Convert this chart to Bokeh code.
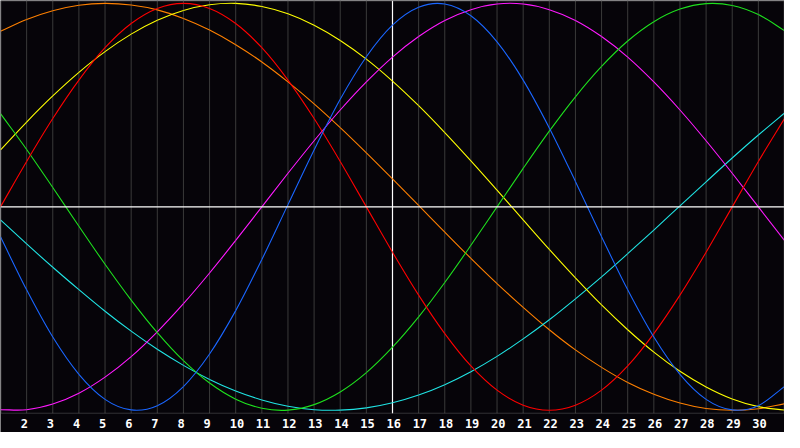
from bokeh.plotting import figure
from bokeh.models import Range1d, Span, BoxAnnotation, ColumnDataSource
from bokeh.core.properties import value
from bokeh.embed import file_html
from bokeh.resources import INLINE

# ---- data (percent values per day) ----
days = list(range(1, 32))

physical = [-14.7, -40.8, -64.0, -82.3, -94.6, -99.8, -97.7, -88.3, -72.3, -51.0, -25.9, 1.1,
            28.0, 52.9, 73.8, 89.3, 98.1, 99.7, 93.9, 81.1, 62.3, 38.8, 12.5, -14.7,
            -40.8, -64.0, -82.3, -94.6, -99.8, -97.7, -88.3]
emotional = [0.0, 22.3, 43.4, 62.3, 78.2, 90.1, 97.5, 100.0, 97.5, 90.1, 78.2, 62.3,
             43.4, 22.3, 0.0, -22.3, -43.4, -62.3, -78.2, -90.1, -97.5, -100.0, -97.5, -90.1,
             -78.2, -62.3, -43.4, -22.3, 0.0, 22.3, 43.4]
intellectual = [45.8, 28.2, 9.5, -9.5, -28.2, -45.8, -61.8, -75.6, -86.6, -94.5, -99.0, -99.9,
                -97.2, -91.0, -81.5, -69.0, -54.1, -37.2, -18.9, 0.0, 18.9, 37.2, 54.1, 69.0,
                81.5, 91.0, 97.2, 99.9, 99.0, 94.5, 86.6]
intuitive = [-99.7, -99.7, -96.9, -91.6, -83.7, -73.6, -61.4, -47.6, -32.5, -16.5, 0.0, 16.5,
             32.5, 47.6, 61.4, 73.6, 83.7, 91.6, 96.9, 99.7, 99.7, 96.9, 91.6, 83.7,
             73.6, 61.4, 47.6, 32.5, 16.5, 0.0, -16.5]
aesthetic = [28.0, 41.7, 54.5, 66.1, 76.3, 84.9, 91.7, 96.5, 99.3, 100.0, 98.5, 94.9,
             89.3, 81.8, 72.6, 61.8, 49.7, 36.5, 22.6, 8.2, -6.4, -20.9, -34.9, -48.2,
             -60.4, -71.4, -80.8, -88.5, -94.4, -98.2, -99.9]
awareness = [86.3, 92.1, 96.4, 99.1, 100.0, 99.2, 96.8, 92.6, 86.9, 79.7, 71.2, 61.4,
             50.6, 38.9, 26.5, 13.7, 0.7, -12.4, -25.3, -37.7, -49.4, -60.4, -70.3, -78.9,
             -86.3, -92.1, -96.4, -99.1, -100.0, -99.2, -96.8]
spiritual = [-6.4, -18.2, -29.7, -40.7, -51.3, -61.1, -70.0, -77.9, -84.8, -90.5, -94.9, -98.0,
             -99.7, -99.9, -98.8, -96.3, -92.5, -87.4, -81.0, -73.5, -64.9, -55.5, -45.2, -34.4,
             -23.0, -11.4, 0.5, 12.3, 24.0, 35.3, 46.1]

series_names = ["awareness", "spiritual", "aesthetic", "intuitive", "intellectual", "emotional", "physical"]
series_values = [awareness, spiritual, aesthetic, intuitive, intellectual, emotional, physical]
series_colors = ["#ff8000", "#20e4e4", "#ffff00", "#ff1aff", "#1ee01e", "#ff0000", "#1a66ff"]

grid_days = list(range(2, 31))
tick_labels = ["2", "3", "4", "5", "6", "7", "8", "9", "10", "11", "12", "13", "14", "15", "16",
               "17", "18", "19", "20", "21", "22", "23", "24", "25", "26", "27", "28", "29", "30"]
today = 16

# ---- layout ----
W, H = 784, 432
TOP, AXIS, BOTTOM = 101.42, -101.42, -110.9

BG = "#060409"
p = figure(width=W, height=H, x_range=Range1d(1, 31), y_range=Range1d(BOTTOM, TOP),
           toolbar_location=None, output_backend="svg", min_border=0,
           background_fill_color=BG, border_fill_color=BG, outline_line_color=None)
p.axis.visible = False
p.grid.visible = False

# vertical day grid lines
p.segment(x0=grid_days, y0=[AXIS] * len(grid_days), x1=grid_days, y1=[TOP] * len(grid_days),
          line_color="#3a3a3a", line_width=1)

# today line and zero line
p.segment(x0=[today], y0=[AXIS], x1=[today], y1=[TOP], line_color="#ffffff", line_width=1.2)
p.add_layout(Span(location=0, dimension="width", line_color="#ffffff", line_width=1.2))

# frame border
px_x = 30 / W
px_y = (TOP - BOTTOM) / H
p.add_layout(BoxAnnotation(left=1 + 0.5 * px_x, right=31 - 0.5 * px_x, top=TOP - 0.5 * px_y,
                           bottom=AXIS, fill_alpha=0, line_color="#9c9c9c", line_width=1))


# curves drawn as smooth (Catmull-Rom style) bezier segments through the daily values
def smooth_segments(xs, ys):
    n = len(xs)
    ext_x = [2 * xs[0] - xs[1]] + list(xs) + [2 * xs[-1] - xs[-2]]
    ext_y = [2 * ys[0] - ys[1]] + list(ys) + [2 * ys[-1] - ys[-2]]
    seg = dict(x0=[], y0=[], x1=[], y1=[], cx0=[], cy0=[], cx1=[], cy1=[])
    for i in range(n - 1):
        pm, p0, p1, p2 = i, i + 1, i + 2, i + 3
        seg["x0"].append(ext_x[p0]); seg["y0"].append(ext_y[p0])
        seg["x1"].append(ext_x[p1]); seg["y1"].append(ext_y[p1])
        seg["cx0"].append(ext_x[p0] + (ext_x[p1] - ext_x[pm]) / 6)
        seg["cy0"].append(ext_y[p0] + (ext_y[p1] - ext_y[pm]) / 6)
        seg["cx1"].append(ext_x[p1] - (ext_x[p2] - ext_x[p0]) / 6)
        seg["cy1"].append(ext_y[p1] - (ext_y[p2] - ext_y[p0]) / 6)
    return seg


for name, vals, col in zip(series_names, series_values, series_colors):
    src = ColumnDataSource(smooth_segments(days, vals))
    p.bezier(x0="x0", y0="y0", x1="x1", y1="y1", cx0="cx0", cy0="cy0", cx1="cx1", cy1="cy1",
             source=src, line_color=col, line_width=1.1)

# day labels
lab_src = ColumnDataSource(dict(x=grid_days, y=[-106.6] * len(grid_days), t=tick_labels))
p.text("x", "y", text="t", source=lab_src, text_color="#ffffff", text_align="left",
       text_baseline="middle", x_offset=-6, text_font=value("DejaVu Sans Mono"),
       text_font_style="bold", text_font_size="12px")

open("out.html", "w").write(file_html(p, INLINE))
